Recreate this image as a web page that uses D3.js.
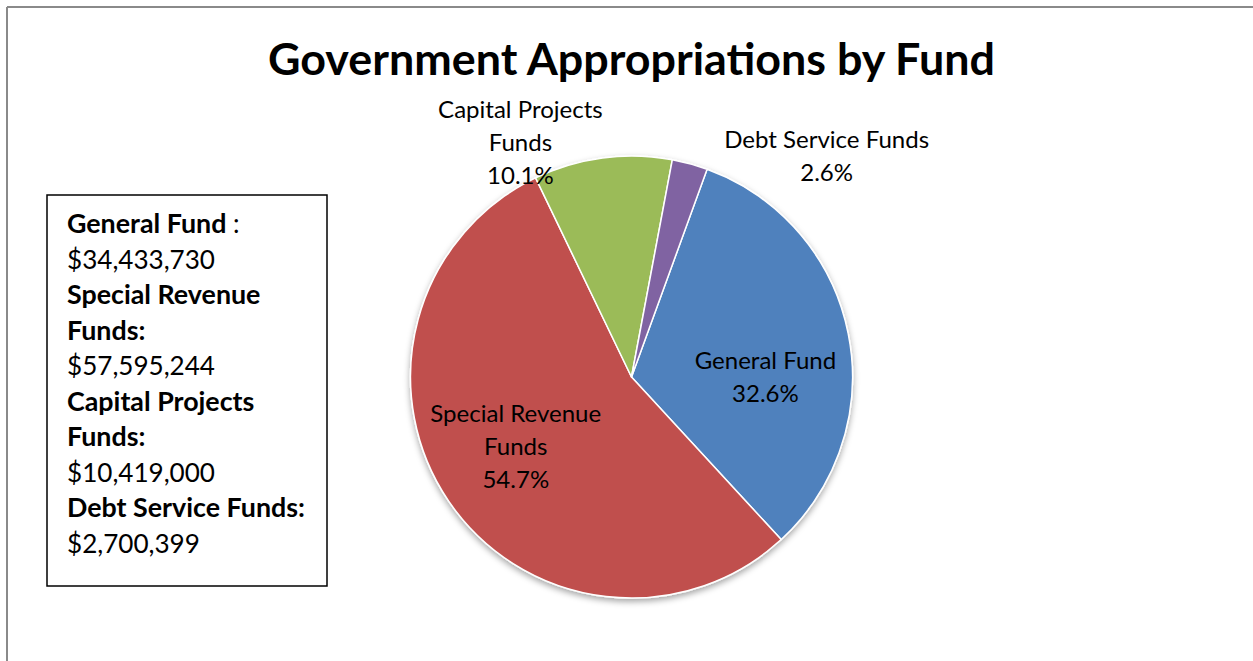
<!DOCTYPE html>
<html>
<head>
<meta charset="utf-8">
<script src="https://cdn.jsdelivr.net/npm/d3@7"></script>
<style>
  body { margin: 0; background: #fff; }
  svg { display: block; font-family: Lato, "Open Sans", sans-serif; }
</style>
</head>
<body>
<svg id="chart"></svg>
<script>
// data
var categories = ["General Fund", "Special Revenue Funds", "Capital Projects Funds", "Debt Service Funds"];
var percents = [32.6, 54.7, 10.1, 2.6];
var amounts = ["$34,433,730", "$57,595,244", "$10,419,000", "$2,700,399"];
var pieLabelLines = [["General Fund"], ["Special Revenue", "Funds"], ["Capital Projects", "Funds"], ["Debt Service Funds"]];
var legendLines = [["General Fund"], ["Special Revenue", "Funds:"], ["Capital Projects", "Funds:"], ["Debt Service Funds:"]];
var colors = ["#4F81BD", "#C0504D", "#9BBB59", "#8064A2"];
var title = "Government Appropriations by Fund";

var width = 1253;
var height = 661;
var cx = 631.5, cy = 377;
var radius = 221;
var startAngle = 20 * Math.PI / 180;

// where Excel put each label: angle (deg) and distance as share of radius
var labelPlacement = [
  { a: 90, r: 0.606 },
  { a: 239, r: 0.611 },
  { a: -25.4, r: 1.172 },
  { a: 41.4, r: 1.335 }
];

var svg = d3.select("#chart")
    .attr("width", width)
    .attr("height", height);

// size a font so a sample string gets the width it has in the picture
function fitSize(text, weight, target) {
  var t = svg.append("text")
      .attr("font-size", 100)
      .attr("font-weight", weight)
      .text(text);
  var w = t.node().getComputedTextLength();
  t.remove();
  return 100 * target / w;
}

var titleSize = fitSize(title, "bold", 727);
var labelSize = fitSize("Debt Service Funds", "normal", 205);
var legendBold = fitSize("Debt Service Funds:", "bold", 238);
var legendNormal = fitSize("$34,433,730", "normal", 148);

var defs = svg.append("defs");
var shadow = defs.append("filter")
    .attr("id", "shadow")
    .attr("x", "-10%").attr("y", "-10%")
    .attr("width", "120%").attr("height", "125%");
shadow.append("feDropShadow")
    .attr("dx", 0)
    .attr("dy", 3)
    .attr("stdDeviation", 3)
    .attr("flood-color", "#000")
    .attr("flood-opacity", 0.35);

// frame (only top and left edges show)
svg.append("line")
    .attr("x1", 7).attr("y1", 7).attr("x2", width).attr("y2", 7)
    .attr("stroke", "#8a8a8a").attr("stroke-width", 2);
svg.append("line")
    .attr("x1", 7).attr("y1", 7).attr("x2", 7).attr("y2", height)
    .attr("stroke", "#8a8a8a").attr("stroke-width", 2);

svg.append("text")
    .attr("x", cx)
    .attr("y", 75)
    .attr("text-anchor", "middle")
    .attr("font-weight", "bold")
    .attr("font-size", titleSize)
    .attr("fill", "#000")
    .text(title);

var pieData = categories.map((c, i) => ({ name: c, value: percents[i], i: i }));

var arcs = d3.pie()
    .value(d => d.value)
    .sort(null)
    .startAngle(startAngle)
    .endAngle(startAngle + 2 * Math.PI)
    (pieData);

var path = d3.arc()
    .innerRadius(0)
    .outerRadius(radius);

var chart = svg.append("g")
    .attr("transform", "translate(" + cx + "," + cy + ")");

chart.append("g")
    .attr("filter", "url(#shadow)")
  .selectAll("path")
  .data(arcs)
  .enter()
  .append("path")
    .attr("d", path)
    .attr("fill", d => colors[d.data.i])
    .attr("stroke", "#fff")
    .attr("stroke-width", 1.5)
    .attr("stroke-linejoin", "round");

var lineH = 33;

var labels = chart.selectAll(".slice-label")
  .data(arcs)
  .enter()
  .append("text")
    .classed("slice-label", true)
    .attr("text-anchor", "middle")
    .attr("font-size", labelSize)
    .attr("fill", "#000")
    .each(function(d) {
      var lines = pieLabelLines[d.data.i].concat([d.data.value.toFixed(1) + "%"]);
      var p = labelPlacement[d.data.i];
      var pos = d3.pointRadial(p.a * Math.PI / 180, p.r * radius);
      var top = pos[1] - (lines.length - 1) * lineH / 2;
      d3.select(this).selectAll("tspan")
        .data(lines)
        .enter()
        .append("tspan")
          .attr("x", pos[0])
          .attr("y", (l, j) => top + j * lineH)
          .attr("dy", "0.35em")
          .text(l => l);
    });

// legend box
var legend = svg.append("g");
legend.append("rect")
    .attr("x", 47)
    .attr("y", 195)
    .attr("width", 280)
    .attr("height", 391)
    .attr("fill", "#fff")
    .attr("stroke", "#000")
    .attr("stroke-width", 1.5);

var rows = [];
categories.forEach((c, i) => {
  legendLines[i].forEach((l, j) => {
    var tail = (i === 0 && j === legendLines[i].length - 1) ? " :" : "";
    rows.push({ text: l, bold: true, tail: tail });
  });
  rows.push({ text: amounts[i], bold: false, tail: "" });
});

var legendText = legend.append("text")
    .attr("fill", "#000");

rows.forEach((r, k) => {
  legendText.append("tspan")
      .attr("x", 67)
      .attr("y", 233 + k * 35.5)
      .attr("font-weight", r.bold ? "bold" : "normal")
      .attr("font-size", r.bold ? legendBold : legendNormal)
      .text(r.text);
  if (r.tail) {
    legendText.append("tspan")
        .attr("font-weight", "normal")
        .attr("font-size", legendNormal)
        .text(r.tail);
  }
});
</script>
</body>
</html>
